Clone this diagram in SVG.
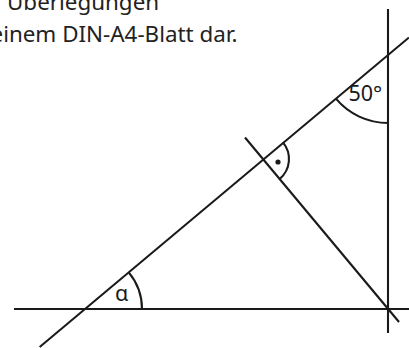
<svg xmlns="http://www.w3.org/2000/svg" width="409" height="348" viewBox="0 0 409 348">
<style>
.ln{stroke:#1a1a1a;stroke-width:2.1;fill:none;stroke-linecap:butt}
.arc{stroke:#1a1a1a;stroke-width:2.1;fill:none}
.tx{font-family:"Noto Sans","Open Sans",sans-serif;fill:#222;font-size:22.4px}
.lb{font-family:"Noto Sans","Open Sans",sans-serif;fill:#1a1a1a;font-size:21.5px}
</style>
<rect width="409" height="348" fill="#fff"/>
<g id="text">
<text class="tx" x="7" y="10">Überlegungen</text>
<text class="tx" x="-9.5" y="42">einem DIN-A4-Blatt dar.</text>
</g>
<g id="lines">
<line class="ln" x1="14" y1="309" x2="409" y2="309"/>
<line class="ln" x1="388" y1="9" x2="388" y2="333"/>
<line class="ln" x1="39.7" y1="347" x2="409" y2="37.5"/>
<line class="ln" x1="245" y1="137.5" x2="399" y2="322"/>
</g>
<g id="angles">
<path class="arc" d="M282.9,142.3 A26,26 0 0 1 279.7,178.9"/>
<circle cx="278" cy="162" r="2.6" fill="#1a1a1a"/>
<path class="arc" d="M335.9,98.7 A68,68 0 0 0 388,123"/>
<path class="arc" d="M128.7,272.3 A57,57 0 0 1 142,309"/>
</g>
<g id="labels">
<text class="lb" x="348.5" y="101">50°</text>
<text class="lb" x="115" y="301">α</text>
</g>
</svg>
